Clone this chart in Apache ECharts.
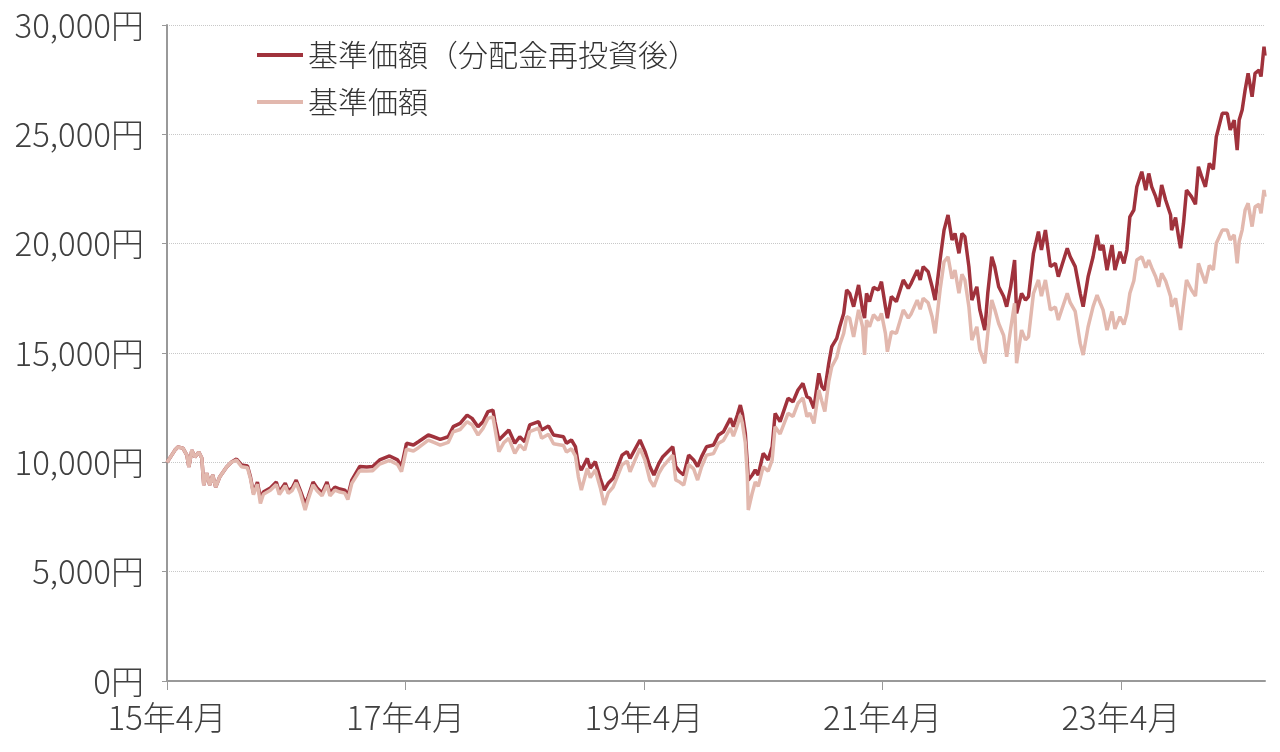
<!DOCTYPE html>
<html><head><meta charset="utf-8">
<script src="https://cdn.jsdelivr.net/npm/echarts@6/dist/echarts.min.js"></script>
<style>html,body{margin:0;padding:0;background:#fff}#c{width:1280px;height:752px}</style>
</head><body><div id="c"></div>
<script>
// months elapsed since April 2015
const months = [0,0.8,1.1,1.6,2.0,2.2,2.5,2.8,3.2,3.5,3.7,4.0,4.3,4.6,4.9,5.3,6.0,6.5,7.0,7.5,8.1,8.4,8.7,9.1,9.4,9.7,10.4,11.0,11.3,11.9,12.2,12.6,13.0,13.4,13.9,14.2,14.7,15.1,15.6,16.1,16.4,16.9,17.4,17.9,18.2,18.6,19.4,20.1,20.7,21.4,22.4,23.2,23.6,
24.1,24.8,25.3,26.3,26.8,27.5,28.3,28.8,29.5,30.2,30.7,31.3,31.8,32.3,32.8,33.0,33.4,33.9,34.4,35.0,35.5,36.0,36.5,37.4,37.7,38.4,38.9,39.9,40.2,40.7,41.1,41.4,41.7,42.3,42.6,43.1,43.6,44.0,44.4,44.9,45.8,46.3,46.6,47.6,48.1,48.6,49.0,49.5,49.9,50.9,51.2,51.6,52.0,52.5,53.0,53.4,53.8,54.3,55.0,55.5,56.0,56.7,57.0,57.4,57.7,57.9,58.2,58.4,58.5,58.9,59.2,59.5,60.0,60.5,60.9,61.2,61.7,62.5,63.0,63.5,64.0,64.4,64.7,65.1,65.6,65.9,66.2,66.6,66.9,67.4,67.7,68.1,68.4,68.7,69.1,69.6,70.0,70.2,70.4,70.7,71.1,71.6,71.9,72.3,72.5,72.9,73.4,74.1,74.6,74.9,75.5,75.8,76.1,76.6,77.0,77.3,77.8,78.2,78.6,79.0,79.3,79.7,80.0,80.3,80.7,81.0,81.5,81.8,82.3,82.6,83.0,83.3,83.7,84.2,84.5,84.9,85.3,85.5,86.0,86.4,86.7,87.2,87.7,88.0,88.4,88.9,89.4,89.7,90.6,90.9,91.4,91.9,92.2,92.7,93.2,93.6,93.9,94.2,94.6,95.1,95.4,95.9,96.3,96.6,96.9,97.3,97.6,98.1,98.5,98.8,99.1,99.5,99.8,100.1,100.5,101.0,101.1,101.5,101.8,102.0,102.3,102.6,103.1,103.5,103.8,104.1,104.5,104.9,105.3,105.6,106.2,106.7,107.0,107.4,107.7,107.9,108.2,108.5,108.8,109.2,109.5,109.9,110.1,110.4,110.5];
// 基準価額（分配金再投資後）
const navReinvested = [10000,10560,10700,10650,10330,9790,10560,10240,10470,10200,8960,9510,8960,9420,8870,9330,9790,10010,10150,9880,9830,9330,8600,9100,8350,8640,8830,9100,8640,9050,8690,8830,9190,8730,8100,8410,9100,8830,8600,9100,8600,8870,8780,8730,8460,9190,9810,9790,9810,10110,10290,10110,9800,
10870,10790,10940,11250,11170,11050,11170,11630,11780,12160,12010,11630,11860,12320,12390,11860,11020,11250,11480,10870,11170,10940,11710,11860,11480,11660,11250,11170,10870,11020,10720,9880,9650,10180,9730,10030,9270,8730,9040,9270,10330,10490,10180,11020,10500,9800,9420,9950,10260,10710,9800,9570,9420,10330,10110,9800,10260,10710,10790,11250,11400,12010,11630,12160,12620,12240,11330,9950,9190,9420,9650,9420,10410,10110,10710,12240,11860,12930,12770,13310,13610,13000,12930,12470,14070,13460,13310,14530,15290,15670,16200,16810,17880,17730,17120,18110,16970,16600,17730,17350,18000,17880,18260,17120,16590,17580,17350,18340,17960,18200,18790,18340,18950,18720,18030,17420,19250,20620,21310,20170,20470,19560,20470,20320,18950,17420,18030,16970,16050,17730,19400,18950,18030,17580,17120,18000,19250,16810,17730,17420,17580,19560,20550,19710,20620,18950,19100,18490,19790,19400,18950,17730,17120,18490,19400,20400,19700,19940,18790,19940,18790,19630,19100,19710,21230,21540,22600,23290,22450,23210,22600,22150,21690,22680,22000,21310,20620,21200,20320,19790,20930,22450,22150,21800,23520,23100,22600,23670,23400,24890,25960,25960,25200,25650,24280,25650,26110,27030,27790,26720,27790,27940,27640,29010,28600];
// 基準価額
const nav = [10000,10560,10700,10650,10330,9790,10560,10240,10470,10200,8960,9510,8960,9420,8870,9330,9790,10010,10100,9800,9750,9250,8520,9000,8120,8540,8720,8990,8530,8930,8580,8710,9060,8610,7820,8290,8970,8700,8470,8960,8470,8730,8640,8590,8300,9040,9620,9600,9620,9920,10090,9900,9570,
10600,10520,10670,11020,10920,10790,10910,11400,11500,11860,11720,11250,11550,12010,12080,11560,10490,10900,11100,10410,10800,10560,11400,11560,11100,11280,10850,10770,10470,10620,10300,9340,8730,9730,9300,9650,8850,8050,8600,8870,9880,10060,9570,10640,10100,9190,8890,9500,9800,10330,9190,9100,8960,9900,9700,9190,9800,10330,10400,10870,11000,11560,11200,11700,12160,11800,10900,9400,7820,8600,9100,8900,9800,9600,10100,11630,11300,12240,12100,12700,12950,12090,12250,11780,13310,12800,12320,13700,14370,14800,15370,15900,16660,16600,15740,16970,16200,14910,16500,16200,16750,16500,16810,15900,15060,15970,15900,16970,16600,16800,17420,17000,17500,17300,16660,15900,17880,19170,19400,18400,18790,17730,18600,18340,17120,15590,16200,15140,14530,15900,17420,17000,16350,15800,14830,16100,17270,14530,16050,15600,15740,17730,18340,17600,18340,16970,17100,16510,17730,17300,16900,15440,14910,16200,17120,17650,17300,16970,16050,16900,16100,16660,16300,16800,17730,18300,19250,19400,18900,19250,18900,18490,18030,18640,18300,17580,17120,17500,16660,16050,17200,18340,17880,17600,19100,18700,18190,19000,18800,20020,20620,20620,20170,20400,19100,20100,20620,21540,21850,20780,21690,21800,21390,22450,22150];
const tickLabels = ['15年4月','17年4月','19年4月','21年4月','23年4月'];
const seriesNames = ['基準価額（分配金再投資後）','基準価額'];

const axisFont = '"Noto Sans CJK JP", "Noto Sans", sans-serif';
const legendFont = '"Noto Sans CJK JP", "Noto Sans", sans-serif';
const chart = echarts.init(document.getElementById('c'), null, {renderer:'canvas'});
const tickVals = tickLabels.map((_, i) => i * 24);
chart.setOption({
  animation: false,
  backgroundColor: '#fff',
  grid: {left: 167, right: 15, top: 25, bottom: 71, containLabel: false},
  legend: {
    left: 252, top: 35, orient: 'vertical', itemGap: 17,
    itemWidth: 46, itemHeight: 4, icon: 'rect',
    textStyle: {fontFamily: legendFont, fontSize: 30, fontWeight: 300, color: '#333'},
    data: seriesNames
  },
  xAxis: {
    type: 'value', min: 0, max: 110.5, interval: 24,
    axisLine: {lineStyle: {color: '#999', width: 2}},
    axisTick: {show: true, length: 9, lineStyle: {color: '#999', width: 1}, customValues: tickVals},
    axisLabel: {customValues: tickVals, formatter: v => tickLabels[Math.round(v/24)] || '', margin: 20,
      fontFamily: axisFont, fontSize: 33, fontWeight: 300, color: '#404040'},
    splitLine: {show: false}
  },
  yAxis: {
    type: 'value', min: 0, max: 30000, interval: 5000,
    axisLine: {show: true, lineStyle: {color: '#999', width: 2}},
    axisTick: {show: true, length: 5, lineStyle: {color: '#999'}},
    axisLabel: {formatter: v => v.toLocaleString('en-US') + '円', margin: 23,
      fontFamily: axisFont, fontSize: 33, fontWeight: 300, color: '#404040'},
    splitLine: {show: true, lineStyle: {color: '#c8c8c8', type: 'dotted', width: 1}}
  },
  series: [
    {name: seriesNames[0], type: 'line', symbol: 'none', lineStyle: {color: '#a0323c', width: 3.5}, itemStyle: {color: '#a0323c'},
      data: months.map((m, i) => [m, navReinvested[i]])},
    {name: seriesNames[1], type: 'line', symbol: 'none', lineStyle: {color: '#e2b8ae', width: 3.5}, itemStyle: {color: '#e2b8ae'},
      data: months.map((m, i) => [m, nav[i]])}
  ]
});
</script></body></html>
